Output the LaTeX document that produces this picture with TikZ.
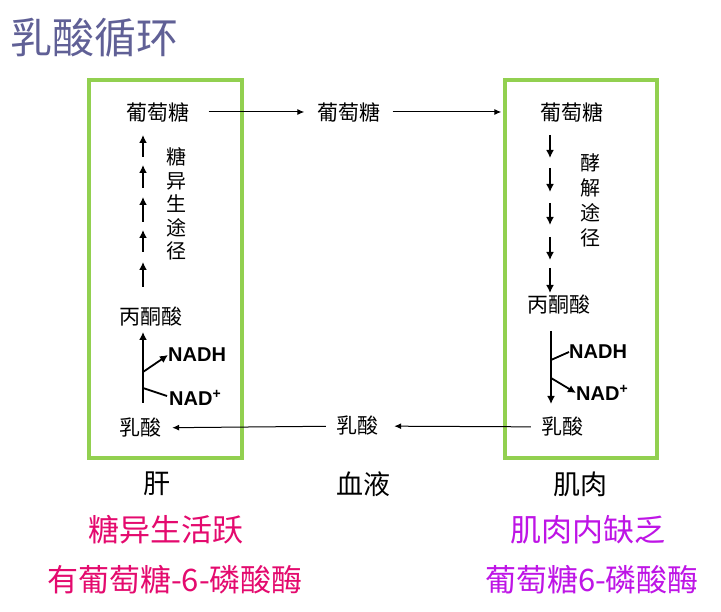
\documentclass[tikz,border=0pt]{standalone}
\usepackage{fontspec}
\setmainfont{Liberation Sans}
\newfontfamily\cjk{Noto Sans CJK SC}
\usetikzlibrary{arrows.meta}
\definecolor{boxgreen}{RGB}{146,208,80}
\definecolor{titleblue}{RGB}{96,96,150}
\definecolor{liverred}{RGB}{228,10,110}
\definecolor{musclepurple}{RGB}{190,20,230}
\begin{document}
\begin{tikzpicture}[x=1pt,y=-1pt,
  organ/.style={draw=boxgreen, line width=3.5pt},
  chem/.style={font=\cjk\fontsize{21}{21}\selectfont, inner sep=1pt},
  vtext/.style={font=\cjk\fontsize{20}{23.5}\selectfont, align=center, inner sep=0pt},
  nad/.style={font=\bfseries\fontsize{20}{20}\selectfont, inner sep=0pt, anchor=west},
  place/.style={font=\cjk\fontsize{27}{27}\selectfont, inner sep=0pt},
  note/.style={font=\cjk\fontsize{31}{31}\selectfont, inner sep=0pt},
  arr/.style={-{Latex[length=7pt,width=6pt]}, line width=1pt},
  small/.style={-{Latex[length=8pt,width=8pt]}, line width=1.8pt},
  plain/.style={line width=1.8pt}
]
\useasboundingbox[fill=white] (0,0) rectangle (721,612);

% title
\node[font=\cjk\fontsize{42}{42}\selectfont, text=titleblue, anchor=west, inner sep=0pt] (title) at (10,38) {乳酸循环};

% organ boxes
\draw[organ] (89,80) rectangle (242,458);
\draw[organ] (505,80) rectangle (657,458);

% top row
\node[chem] (glcL) at (158,112) {葡萄糖};
\node[chem] (glcB) at (349,112) {葡萄糖};
\node[chem] (glcM) at (572,112) {葡萄糖};
\draw[arr, shorten <=18pt, shorten >=12pt] (glcL) -- (glcB);
\draw[arr, shorten <=11pt, shorten >=38pt] (glcB) -- (glcM);

% bottom row
\node[chem] (lacL) at (140,428) {乳酸};
\node[chem] (lacB) at (357,426) {乳酸};
\node[chem] (lacM) at (562,427) {乳酸};
\draw[arr, shorten <=9pt, shorten >=10pt] (lacB) -- (lacL);
\draw[arr, shorten <=9pt, shorten >=15pt] (lacM) -- (lacB);

% pyruvate
\node[chem] (pyrL) at (151,317) {丙酮酸};
\node[chem] (pyrM) at (559,305) {丙酮酸};

% liver: gluconeogenesis arrows
\foreach \i/\a/\b in {1/287/262, 2/252/230, 3/222/197, 4/188/165, 5/157/135}{
  \coordinate (gs\i) at (143,\a);
  \coordinate (ge\i) at (143,\b);
  \draw[small] (gs\i) -- (ge\i);
}
\node[vtext] (gng) at (176,204) {糖\\异\\生\\途\\径};

% muscle: glycolysis arrows
\foreach \i/\a/\b in {1/135/158, 2/168/192, 3/203/225, 4/237/260, 5/268/293}{
  \coordinate (ys\i) at (550,\a);
  \coordinate (ye\i) at (550,\b);
  \draw[small] (ys\i) -- (ye\i);
}
\node[vtext, font=\cjk\fontsize{20}{25}\selectfont] (gly) at (590,200) {酵\\解\\途\\径};

% liver: lactate -> pyruvate
\coordinate (lL0) at (143,403);
\coordinate (lL1) at (143,332);
\draw[small] (lL0) -- (lL1);
\node[nad] (nadhL) at (168,355) {NADH};
\node[nad] (nadL) at (169,398) {NAD\textsuperscript{+}};
\coordinate (bL1) at (143,372);
\coordinate (bL2) at (143,388);
\draw[small] (bL1) -- (nadhL.west);
\draw[plain] (bL2) -- (167,396);

% muscle: pyruvate -> lactate
\coordinate (mL0) at (551,331);
\coordinate (mL1) at (551,404);
\draw[small] (mL0) -- (mL1);
\node[nad] (nadhM) at (569,352) {NADH};
\node[nad] (nadM) at (576,393) {NAD\textsuperscript{+}};
\coordinate (bM1) at (551,360);
\coordinate (bM2) at (551,378);
\draw[plain] (bM1) -- (nadhM.west);
\draw[small] (bM2) -- (nadM.west);

% places
\node[place] (liver) at (157,484) {肝};
\node[place] (blood) at (363,484) {血液};
\node[place] (muscle) at (580,484) {肌肉};

% notes
\node[note, text=liverred] (n1) at (166,530) {糖异生活跃};
\node[note, text=liverred] (n2) at (175,580) {有葡萄糖-6-磷酸酶};
\node[note, text=musclepurple] (n3) at (588,530) {肌肉内缺乏};
\node[note, text=musclepurple] (n4) at (592,580) {葡萄糖6-磷酸酶};
\end{tikzpicture}
\end{document}
